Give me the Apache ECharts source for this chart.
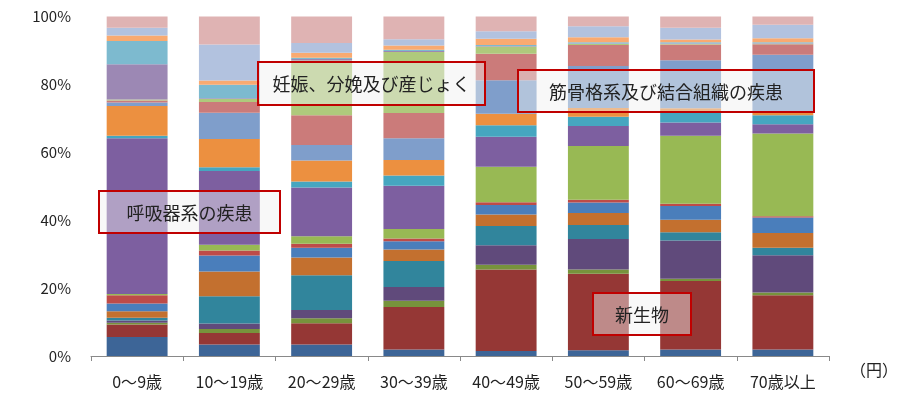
<!DOCTYPE html>
<html><head><meta charset="utf-8">
<script src="https://cdn.jsdelivr.net/npm/echarts@6/dist/echarts.min.js"></script>
<style>html,body{margin:0;padding:0;background:#fff}#c{width:911px;height:394px}</style>
</head><body><div id="c"></div>
<script>
const categories = ['0～9歳','10～19歳','20～29歳','30～39歳','40～49歳','50～59歳','60～69歳','70歳以上'];
const yTicks = [0, 20, 40, 60, 80, 100];

// shares (%), bottom to top
const infection   = [5.6, 3.4, 3.4, 1.9, 1.5, 1.7, 1.9, 1.9];
const neoplasm    = [3.7, 3.4, 6.3, 12.6, 24.1, 22.6, 20.2, 16.0];
const blood       = [0.5, 1.2, 1.5, 1.8, 1.4, 1.2, 0.7, 0.8];
const endocrine   = [0.7, 1.6, 2.4, 4.1, 5.8, 9.0, 11.3, 11.0];
const mental      = [0.8, 8.1, 10.3, 7.7, 5.7, 4.2, 2.4, 2.2];
const nervous     = [1.9, 7.3, 5.2, 3.4, 3.4, 3.5, 3.7, 4.4];
const eye         = [2.3, 4.7, 2.9, 2.4, 2.8, 3.1, 4.1, 4.5];
const ear         = [2.4, 1.5, 1.2, 0.8, 0.8, 0.8, 0.6, 0.4];
const circulatory = [0.4, 1.7, 2.2, 2.8, 10.5, 15.9, 20.1, 24.4];
const respiratory = [46.0, 21.8, 14.4, 12.8, 8.9, 5.9, 3.9, 2.7];
const digestive   = [0.7, 1.1, 1.8, 3.0, 3.4, 2.7, 2.9, 2.7];
const skin        = [8.8, 8.4, 6.2, 4.6, 3.4, 2.6, 1.3, 1.0];
const musculo     = [1.0, 7.7, 4.6, 6.4, 9.9, 12.4, 14.2, 16.8];
const genito      = [0.6, 3.2, 8.8, 7.5, 7.9, 6.2, 4.6, 3.1];
const pregnancy   = [0.3, 0.9, 16.2, 18.0, 2.1, 0.3, 0.2, 0.2];
const perinatal   = [10.4, 0.2, 0.4, 0.3, 0.2, 0.1, 0.1, 0.1];
const congenital  = [6.9, 4.0, 0.4, 0.4, 0.3, 0.4, 0.4, 0.3];
const symptoms    = [1.6, 1.3, 1.5, 1.2, 1.8, 1.5, 0.8, 1.2];
const injury      = [2.3, 10.6, 2.9, 1.9, 2.2, 3.2, 3.5, 4.0];
const other       = [3.3, 8.3, 7.8, 6.7, 4.4, 2.9, 3.3, 2.4];

const seriesNames = ['感染症及び寄生虫症','新生物','血液及び造血器の疾患','内分泌、栄養及び代謝疾患','精神及び行動の障害','神経系の疾患','眼及び付属器の疾患','耳及び乳様突起の疾患','循環器系の疾患','呼吸器系の疾患','消化器系の疾患','皮膚及び皮下組織の疾患','筋骨格系及び結合組織の疾患','腎尿路生殖器系の疾患','妊娠、分娩及び産じょく','周産期に発生した病態','先天奇形、変形及び染色体異常','症状、徴候及び異常臨床所見','損傷、中毒及びその他の外因の影響','その他'];
const seriesData = [infection, neoplasm, blood, endocrine, mental, nervous, eye, ear, circulatory, respiratory, digestive, skin, musculo, genito, pregnancy, perinatal, congenital, symptoms, injury, other];
const colors = ['#3D6597','#953735','#77933C','#604A7B','#31859C','#C3702F','#4A7EBB','#BE4B48','#98B954','#7D5FA0','#46A6C0','#EC9040','#7F9ECB','#CB7B7A','#AFC97C','#9C88B4','#7DBACF','#F9AA71','#B2C2DF','#DFB3B3'];

const totals = categories.map((_, i) => seriesData.reduce((s, arr) => s + arr[i], 0));

const annotations = [
  {text:'呼吸器系の疾患', x:99, y:191, w:181, h:42},
  {text:'妊娠、分娩及び産じょく', x:258, y:62, w:227, h:43},
  {text:'筋骨格系及び結合組織の疾患', x:518, y:70, w:296, h:42},
  {text:'新生物', x:593, y:293, w:98, h:42}
];

const chart = echarts.init(document.getElementById('c'), null, {renderer:'canvas'});
const graphics = [];
annotations.forEach(a => {
  graphics.push({type:'rect', z:100, shape:{x:a.x, y:a.y, width:a.w, height:a.h},
    style:{fill:'rgba(240,240,240,0.45)', stroke:'#C00000', lineWidth:2}});
  graphics.push({type:'text', z:101, style:{text:a.text, x:a.x + a.w/2, y:a.y + a.h/2 + 1,
    textAlign:'center', textVerticalAlign:'middle', font:'18px "Noto Sans CJK JP"', fill:'#222'}});
});
graphics.push({type:'text', z:101, style:{text:'（円）', x:850, y:370, textVerticalAlign:'middle',
  font:'16px "Noto Sans CJK JP"', fill:'#222'}});

chart.setOption({
  animation:false,
  color: colors,
  grid:{left:91, right:82, top:16.5, bottom:38, containLabel:false},
  xAxis:{type:'category', data:categories,
    axisLine:{lineStyle:{color:'#898989', width:1}},
    axisTick:{show:true, length:5, lineStyle:{color:'#898989'}},
    axisLabel:{margin:18, fontSize:16, color:'#222', fontFamily:'"Noto Sans CJK JP"'}},
  yAxis:{type:'value', min:yTicks[0], max:yTicks[yTicks.length-1], interval:20,
    axisLine:{show:false}, axisTick:{show:false}, splitLine:{show:false},
    axisLabel:{formatter:'{value}%', margin:20, fontSize:15, color:'#222', fontFamily:'"Noto Sans CJK JP"'}},
  series: seriesData.map((arr, k) => ({
    name: seriesNames[k], type:'bar', stack:'all', barCategoryGap:'34%',
    data: arr.map((v, i) => v / totals[i] * 100),
    itemStyle:{color: colors[k]}
  })),
  graphic: graphics
});
</script></body></html>
